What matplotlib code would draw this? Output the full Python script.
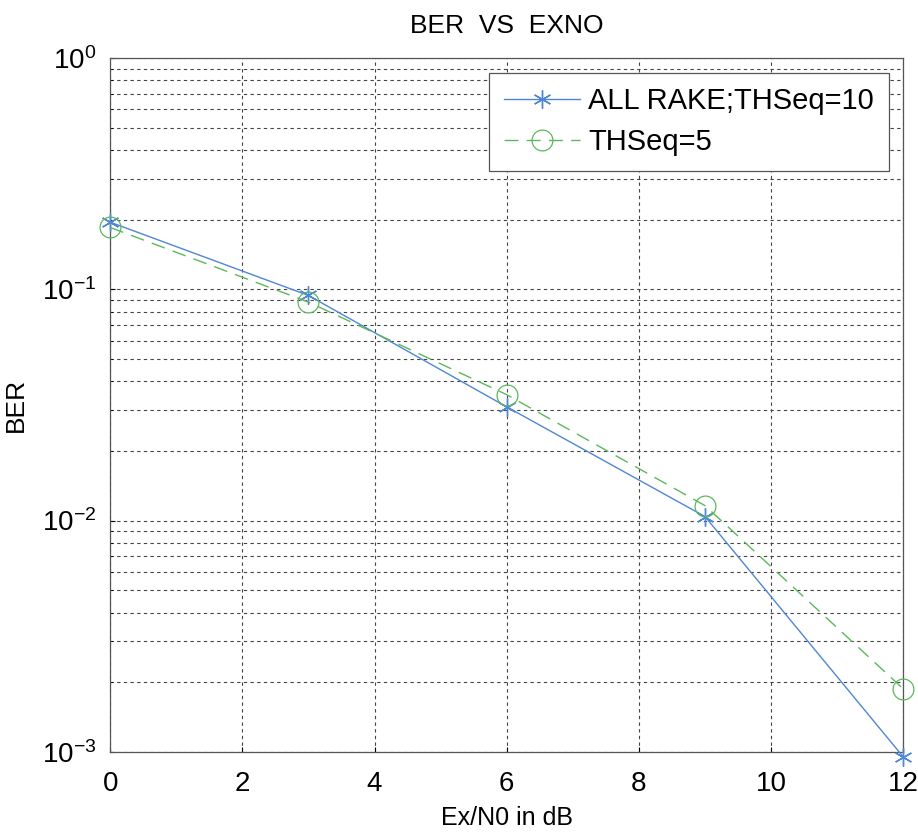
import matplotlib
matplotlib.use("Agg")
import matplotlib.pyplot as plt
from matplotlib.ticker import LogLocator, NullFormatter

plt.rcParams["font.family"] = ["Liberation Sans", "DejaVu Sans"]

ex_n0 = [0, 3, 6, 9, 12]
ber_rake10 = [0.195, 0.094, 0.031, 0.0104, 0.00095]
ber_thseq5 = [0.185, 0.088, 0.035, 0.0116, 0.00187]
x_ticks = [0, 2, 4, 6, 8, 10, 12]

fig = plt.figure(figsize=(9.18, 8.4), dpi=100)
ax = fig.add_axes([0.12, 0.105, 0.864, 0.826])

# MATLAB style asterisk marker
ax.semilogy(ex_n0, ber_rake10, color="#4f86d6", lw=1.0, marker=(6, 2, 0),
            ms=13, mew=1.0, label="ALL RAKE;THSeq=10", clip_on=False, zorder=3)
ax.semilogy(ex_n0, ber_thseq5, color="#5cb85c", lw=1.0, ls=(0, (10, 6)),
            marker="o", ms=15, mfc="none", mew=0.9, label="THSeq=5",
            clip_on=False, zorder=3)

ax.set_xlim(0, 12)
ax.set_ylim(1e-3, 1)
ax.set_xticks(x_ticks)
ax.yaxis.set_major_locator(LogLocator(base=10, numticks=10))
ax.yaxis.set_minor_locator(LogLocator(base=10, subs=range(2, 10), numticks=20))
ax.yaxis.set_minor_formatter(NullFormatter())

ax.grid(True, which="major", color="#444444", ls=(0, (3, 3)), lw=0.8)
ax.grid(True, which="minor", axis="y", color="#444444", ls=(0, (3, 3)), lw=0.8)
ax.tick_params(direction="in", labelsize=20)
ax.tick_params(axis="x", pad=14)
ax.tick_params(axis="y", pad=10)
ax.tick_params(which="minor", direction="in")
for s in ax.spines.values():
    s.set_color("#555555")
    s.set_linewidth(0.9)

ax.set_title("BER  VS  EXNO", fontsize=19, pad=18)
ax.set_xlabel("Ex/N0 in dB", fontsize=18, labelpad=6)
ax.set_ylabel("BER", fontsize=19, labelpad=10)

leg = ax.legend(loc="upper right", fontsize=21, fancybox=False,
                framealpha=1, edgecolor="#555555", handlelength=2.6,
                handletextpad=0.3, borderaxespad=0.5, labelspacing=0.45,
                borderpad=0.5)
leg.get_frame().set_linewidth(0.9)

fig.savefig("out.png", dpi=100)
